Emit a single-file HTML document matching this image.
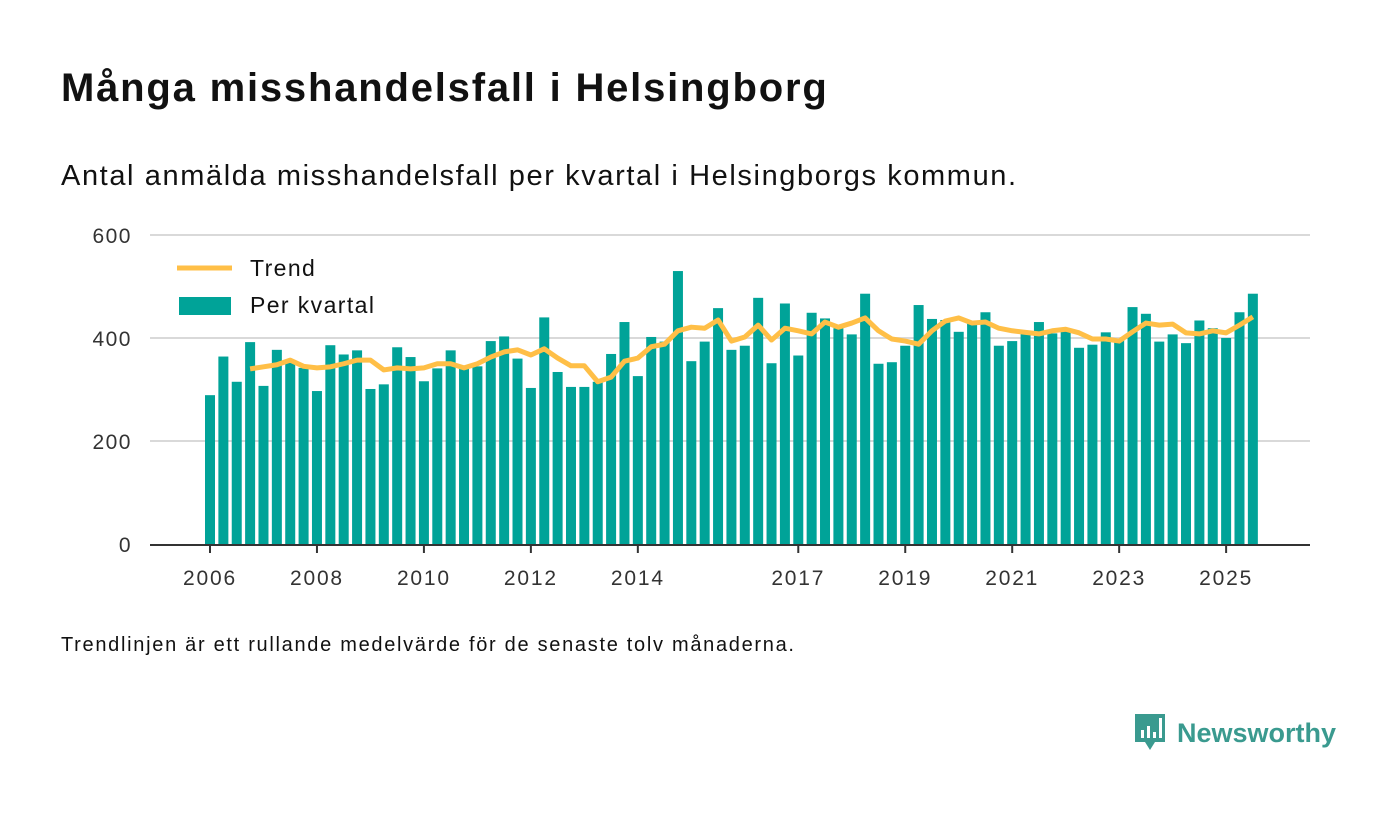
<!DOCTYPE html>
<html><head><meta charset="utf-8"><style>
body{margin:0;width:1400px;height:813px;background:#fff;font-family:"Liberation Sans",sans-serif;overflow:hidden;position:relative}
.t{position:absolute;left:61px;margin:0;color:#111;white-space:nowrap}
</style></head><body>
<h1 class="t" style="top:66px;font-size:40px;font-weight:bold;letter-spacing:1.8px">Många misshandelsfall i Helsingborg</h1>
<div class="t" style="top:160px;font-size:29px;letter-spacing:1.6px">Antal anmälda misshandelsfall per kvartal i Helsingborgs kommun.</div>
<svg id="chart" width="1400" height="813" style="position:absolute;left:0;top:0"></svg>
<div class="t" style="top:634px;font-size:20px;letter-spacing:1.7px">Trendlinjen är ett rullande medelvärde för de senaste tolv månaderna.</div>
<div style="position:absolute;left:1133px;top:712px;height:42px;display:flex;align-items:center">
<svg width="34" height="42"><path d="M2 2h30v28h-10l-5 8-5-8H2z" fill="#3a9a8f"/><rect x="8" y="18" width="3" height="8" fill="#fff"/><rect x="14" y="14" width="3" height="12" fill="#fff"/><rect x="20" y="20" width="3" height="6" fill="#fff"/><rect x="26" y="6" width="3" height="20" fill="#fff"/></svg>
<span style="margin-left:10px;font-size:27px;font-weight:bold;color:#3a9a8f">Newsworthy</span></div>
<script>
const values=[289,364,315,392,307,377,355,342,297,386,368,376,301,310,382,363,316,341,376,341,345,394,403,360,303,440,334,305,305,315,369,431,326,402,393,530,355,393,458,377,385,478,351,467,366,449,438,419,407,486,350,353,385,464,437,435,412,428,450,385,394,409,431,409,416,381,387,411,396,460,447,393,407,390,434,419,400,450,486];
const trend=[340,344,348,357,345,342,344,350,357,357,338,342,340,342,350,350,342,350,363,373,377,367,379,361,346,346,315,324,355,361,383,388,414,421,419,435,394,402,425,396,419,414,408,431,421,429,439,414,398,394,388,414,433,439,429,431,419,414,411,408,414,417,410,398,398,394,412,429,425,427,410,408,414,410,425,441];
const trendStart=3;
const yTicks=[0,200,400,600];
const xTickYears=[2006,2008,2010,2012,2014,2017,2019,2021,2023,2025];
const ns="http://www.w3.org/2000/svg",svg=document.getElementById('chart');
const x=i=>210+i*13.37, y=v=>544-v*0.515;
function mk(t,a){const e=document.createElementNS(ns,t);for(const k in a)e.setAttribute(k,a[k]);svg.appendChild(e);return e;}
yTicks.forEach(v=>{
 if(v>0){const g=mk('line',{x1:150,x2:1310,y1:y(v),y2:y(v),stroke:'#d9d9d9','stroke-width':2});
 
 }
 const t=mk('text',{x:132,y:y(v)+8,'text-anchor':'end','font-size':21,'letter-spacing':1.5,fill:'#333','font-family':'Liberation Sans'});t.textContent=v;
 
 
});
values.forEach((v,i)=>{const r=mk('rect',{x:x(i)-5,y:y(v),width:10,height:v*0.515,fill:'#00a398'});
 
 });
const ax=mk('line',{x1:150,x2:1310,y1:545,y2:545,stroke:'#333','stroke-width':2});


xTickYears.forEach(yr=>{const i=(yr-2006)*4;
 const tk=mk('line',{x1:x(i),x2:x(i),y1:545,y2:553,stroke:'#333','stroke-width':2});
 
 
 const t=mk('text',{x:x(i),y:585,'text-anchor':'middle','font-size':21,'letter-spacing':1.8,fill:'#333','font-family':'Liberation Sans'});t.textContent=yr;
 
 });
const p=mk('polyline',{points:trend.map((v,i)=>x(i+trendStart)+','+y(v)).join(' '),fill:'none',stroke:'#ffbf47','stroke-width':5,'stroke-linejoin':'round'});


const l1=mk('line',{x1:177,x2:232,y1:268,y2:268,stroke:'#ffbf47','stroke-width':5});


const lt1=mk('text',{x:250,y:276,'font-size':23,'letter-spacing':1.4,fill:'#111','font-family':'Liberation Sans'});lt1.textContent='Trend';


const l2=mk('rect',{x:179,y:297,width:52,height:18,fill:'#00a398'});


const lt2=mk('text',{x:250,y:313,'font-size':23,'letter-spacing':1.4,fill:'#111','font-family':'Liberation Sans'});lt2.textContent='Per kvartal';


</script>
</body></html>
